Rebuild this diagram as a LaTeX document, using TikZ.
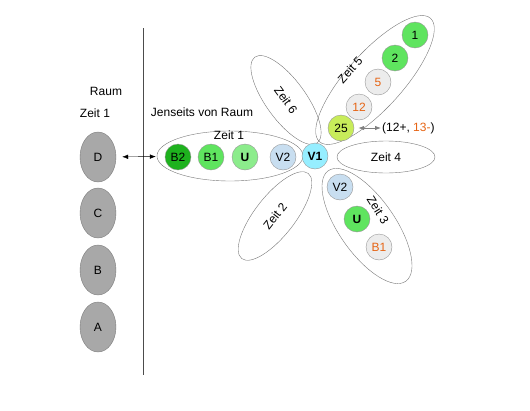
\documentclass[tikz,border=0pt]{standalone}
\usepackage{fontspec}
\setmainfont{Liberation Sans}
\usetikzlibrary{shapes.geometric,arrows.meta}

\definecolor{raumgray}{RGB}{168,168,168}
\definecolor{raumline}{RGB}{125,125,125}
\definecolor{zeitline}{RGB}{120,120,120}
\definecolor{dotline}{RGB}{150,150,150}
\definecolor{darkgreen}{RGB}{30,178,30}
\definecolor{midgreen}{RGB}{95,228,95}
\definecolor{lightgreen}{RGB}{140,236,140}
\definecolor{paleblue}{RGB}{200,222,240}
\definecolor{cyanblue}{RGB}{150,238,255}
\definecolor{palegray}{RGB}{236,236,236}
\definecolor{limegreen}{RGB}{200,236,90}
\definecolor{orangetext}{RGB}{230,100,20}

\begin{document}
\begin{tikzpicture}[x=1pt,y=-1pt,font=\fontsize{12}{14}\selectfont,
    every node/.style={inner sep=0pt},
    zeit/.style={ellipse,draw=zeitline,thin},
    raumel/.style={ellipse,draw=raumline,fill=raumgray,minimum width=36pt,minimum height=50pt},
    dot/.style={circle,draw=dotline,minimum size=26pt},
    tip/.style={{Latex[length=6pt,width=4.5pt]}-{Latex[length=6pt,width=4.5pt]}}]
\useasboundingbox (0,0) rectangle (530,410);

% Raum
\draw[black!70] (143,28) -- (143,375);
\node (raum) at (106,91) {Raum};
\node (zeitA) at (95,113) {Zeit 1};
\node[raumel] (D) at (98,157) {D};
\node[raumel] (C) at (98,213) {C};
\node[raumel] (B) at (98,270) {B};
\node[raumel] (A) at (98,327) {A};

% Jenseits
\node (jenseits) at (202,112) {Jenseits von Raum};
\node[zeit,minimum width=146pt,minimum height=50pt] (zeit1) at (230,156) {};
\node (zeit1lbl) at (229,135) {Zeit 1};
\node[zeit,minimum width=106pt,minimum height=40pt,rotate=-54] (zeit6) at (286,100) {Zeit 6};
\node[zeit,minimum width=166pt,minimum height=56pt,rotate=48] (zeit5) at (375,80) {};
\node[rotate=48] (zeit5lbl) at (350,70) {Zeit 5};
\node[zeit,minimum width=98pt,minimum height=32pt] (zeit4) at (386,157) {Zeit 4};
\node[zeit,minimum width=135pt,minimum height=56pt,rotate=-55] (zeit3) at (367,226) {};
\node[rotate=-58] (zeit3lbl) at (378,210) {Zeit 3};
\node[zeit,minimum width=108pt,minimum height=40pt,rotate=52] (zeit2) at (275,216) {Zeit 2};

% Zeit 1
\node[dot,fill=darkgreen] (B2) at (178,157) {B2};
\node[dot,fill=midgreen] (B1) at (211,157) {B1};
\node[dot,fill=lightgreen] (U) at (245,157) {\textbf{U}};
\node[dot,fill=paleblue] (V2) at (283,157) {V2};
\node[dot,fill=cyanblue] (V1) at (315,156) {\textbf{V1}};

% Zeit 5
\node[dot,fill=midgreen] (n1) at (415,35) {1};
\node[dot,fill=midgreen] (n2) at (395,58) {2};
\node[dot,fill=palegray,text=orangetext] (n5) at (378,82) {5};
\node[dot,fill=palegray,text=orangetext] (n12) at (359,107) {12};
\node[dot,fill=limegreen] (n25) at (341,128) {25};
\node[anchor=west] (diff) at (382,128) {(12+, \textcolor{orangetext}{13-})};

% Zeit 3
\node[dot,fill=paleblue] (V2b) at (340,187) {V2};
\node[dot,fill=midgreen] (Ub) at (357,219) {\textbf{U}};
\node[dot,fill=palegray,text=orangetext] (B1b) at (379,247) {B1};

% Verbindungen
\path [tip] (D) edge[shorten <=6pt,shorten >=1pt] (zeit1);
\path [tip] (n25) edge[draw=gray,gray,thick,shorten <=4pt,shorten >=1pt] (diff);
\end{tikzpicture}
\end{document}
